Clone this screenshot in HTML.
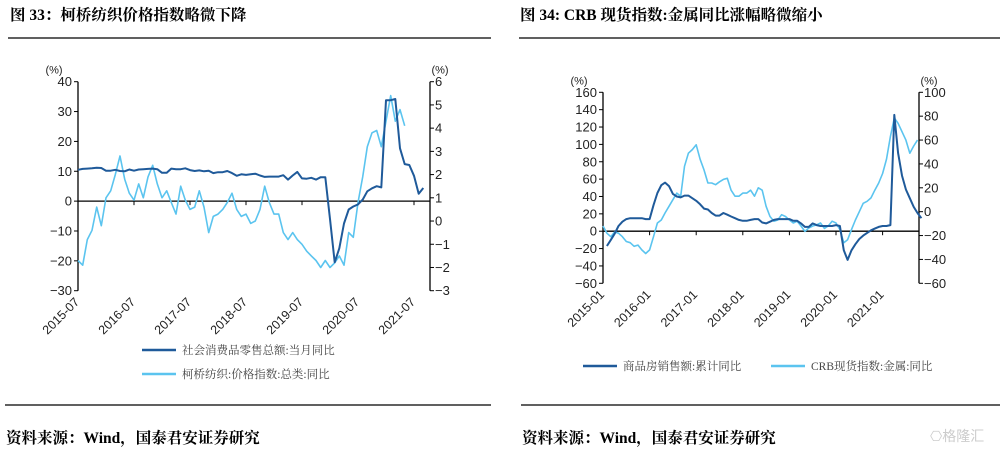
<!DOCTYPE html>
<html><head><meta charset="utf-8"><style>
body{margin:0;background:#fff;width:1007px;height:449px;overflow:hidden;position:relative;font-family:"Liberation Serif","Noto Serif CJK SC",serif}
</style></head><body>
<svg id="s" width="1007" height="449" xmlns="http://www.w3.org/2000/svg">
<text x="10" y="20" font-size="15.5" font-weight="bold" font-family="Liberation Serif,Noto Serif CJK SC,serif">图 33：柯桥纺织价格指数略微下降</text>
<text x="520" y="20" font-size="15.5" font-weight="bold" font-family="Liberation Serif,Noto Serif CJK SC,serif">图 34: CRB 现货指数:金属同比涨幅略微缩小</text>
<line x1="8" y1="38" x2="491" y2="38" stroke="#000" stroke-width="1.3"/>
<line x1="519" y1="38" x2="1000" y2="38" stroke="#000" stroke-width="1.3"/>
<line x1="5" y1="405" x2="491" y2="405" stroke="#000" stroke-width="1.3"/>
<line x1="521" y1="405" x2="1000" y2="405" stroke="#000" stroke-width="1.3"/>
<text x="6" y="443" font-size="15.5" font-weight="bold">资料来源：Wind，国泰君安证券研究</text>
<text x="522" y="443" font-size="15.5" font-weight="bold">资料来源：Wind，国泰君安证券研究</text>
<text x="930" y="441" font-size="14" fill="#ccc" font-family="Liberation Sans,Noto Sans CJK SC,sans-serif">⎔格隆汇</text>
<g id="c1"></g>
<g id="c2"></g>
</svg>
<script>
// Chart 33 data (monthly from 2015-07)
const c1Dates=['2015-07','2016-07','2017-07','2018-07','2019-07','2020-07','2021-07'];
const c1LeftTicks=[40,30,20,10,0,-10,-20,-30];
const c1RightTicks=[6,5,4,3,2,1,0,-1,-2,-3];
const retail=[10.5,10.8,10.9,11.0,11.2,11.1,
10.2,10.2,10.5,10.1,10.0,10.6,10.2,10.6,10.7,10.8,10.9,10.7,
9.5,9.5,10.9,10.7,10.7,11.0,10.4,10.1,10.3,10.0,10.2,9.4,
9.7,9.7,10.1,9.4,8.5,9.0,8.8,9.0,9.2,8.6,8.1,8.2,
8.2,8.2,8.7,7.2,8.6,9.8,7.6,7.5,7.8,7.2,8.0,8.0,
-6.0,-20.5,-15.8,-7.5,-2.8,-1.8,-1.1,0.5,3.3,4.3,5.0,4.6,
33.8,33.8,34.2,17.7,12.4,12.1,8.5,2.5,4.4];
const keqiao=[-1.7,-1.9,-0.8,-0.4,0.6,-0.2,
1.0,1.3,2.0,2.8,1.8,1.2,0.9,1.6,1.0,1.9,2.4,1.6,
1.0,1.3,0.8,0.3,1.5,0.9,0.5,0.6,1.3,0.6,-0.5,0.2,
0.3,0.5,0.8,1.2,0.5,0.2,0.3,-0.1,0.0,0.5,1.5,0.8,
0.3,0.3,-0.5,-0.8,-0.5,-0.8,-1.0,-1.3,-1.5,-1.7,-2.0,-1.7,
-2.0,-1.8,-1.5,-1.9,-0.5,-0.7,0.8,1.9,3.2,3.8,3.9,3.2,
4.3,5.4,4.3,4.8,4.1];
// Chart 34 data (monthly)
const c2Dates=['2015-01','2016-01','2017-01','2018-01','2019-01','2020-01','2021-01'];
const c2LeftTicks=[160,140,120,100,80,60,40,20,0,-20,-40,-60];
const c2RightTicks=[100,80,60,40,20,0,-20,-40,-60];
const housing=[-17,-10,-3,6,11,14,15,15,15,15,14,
14,30,44,53,56,52,43,40,39,41,41,38,
35,31,26,25,21,18,18,21,19,17,15,13,
12,12,13,14,14,10,9,11,13,14,14,14,
14,12,12,9,5,5,9,7,6,6,6,6,
7,6,-22,-33,-22,-15,-9,-5,-2,1,3,5,
6,6,7,134,90,64,48,38,28,21,15];
const crb=[-12,-18,-21,-17,-18,-21,-25,-26,-29,-28,-32,-35,
-32,-21,-9.5,-7,-1,4.5,10,15.6,13,38,49,52,
56,44,35,24,24,22.6,25,27,28,18,13,13,
15.6,15.6,18,13,20,18,4.5,-4,-8,-7,-2.5,-4,
-7,-9.5,-8,-12,-16.5,-13.7,-12,-11,-9.5,-14,-12,-8,
-9.5,-15,-26,-23.5,-15,-7,0,7,8.7,11.5,18,24,
32,44,63,78.5,74,67,60,49,55,60];

const NS='http://www.w3.org/2000/svg';
function mk(p,tag,attrs,txt){const e=document.createElementNS(NS,tag);for(const k in attrs)e.setAttribute(k,attrs[k]);if(txt!==undefined)e.textContent=txt;p.appendChild(e);return e;}
const SF='Liberation Sans,DejaVu Sans,sans-serif';

function draw(g,cfg){
  const {x0,x1,yT,yB,lMax,lMin,rMax,rMin,lTicks,rTicks,dates,monthPx,xStart}=cfg;
  const yl=v=>yB-(v-lMin)/(lMax-lMin)*(yB-yT);
  const yr=v=>yB-(v-rMin)/(rMax-rMin)*(yB-yT);
  const xm=i=>xStart+i*monthPx;
  let e=mk(g,'line',{x1:x0,y1:yT,x2:x0,y2:yB,stroke:'#000','stroke-width':1.3});
  
  
  e=mk(g,'line',{x1:x1,y1:yT,x2:x1,y2:yB,stroke:'#000','stroke-width':1.3});
  
  
  e=mk(g,'line',{x1:x0,y1:yl(0),x2:x1,y2:yl(0),stroke:'#000','stroke-width':1.3});
  
  
  lTicks.forEach(v=>{
    mk(g,'line',{x1:x0-4,y1:yl(v),x2:x0,y2:yl(v),stroke:'#000'});
    e=mk(g,'text',{x:x0-6,y:yl(v)+4.5,'font-size':13,'text-anchor':'end','font-family':SF,fill:'#222'},String(v).replace('-','−'));
    
    
  });
  rTicks.forEach(v=>{
    mk(g,'line',{x1:x1,y1:yr(v),x2:x1+4,y2:yr(v),stroke:'#000'});
    e=mk(g,'text',{x:x1+5,y:yr(v)+4.5,'font-size':13,'font-family':SF,fill:'#222'},String(v).replace('-','−'));
    
    
  });
  e=mk(g,'text',{x:x0-24,y:yT-8,'font-size':11,'text-anchor':'middle','font-family':SF,fill:'#222'},'(%)');
  
  
  e=mk(g,'text',{x:x1+10,y:yT-8,'font-size':11,'text-anchor':'middle','font-family':SF,fill:'#222'},'(%)');
  
  
  dates.forEach((d,i)=>{
    const x=x0+i*12*monthPx;
    if(i>0)mk(g,'line',{x1:x,y1:yl(0),x2:x,y2:yl(0)+4,stroke:'#000'});
    e=mk(g,'text',{x:x+2,y:yB+12,'font-size':12.5,'text-anchor':'end','font-family':SF,fill:'#222',transform:`rotate(-45 ${x+2} ${yB+12})`},d);
    
    
  });
  return {yl,yr,xm};
}
function series(g,vals,xf,yf,color,w,name){
  const d=vals.map((v,i)=>(i?'L':'M')+xf(i).toFixed(1)+','+yf(v).toFixed(1)).join('');
  const e=mk(g,'path',{d:d,fill:'none',stroke:color,'stroke-width':w,'stroke-linejoin':'round'});
  
  
}
function legend(g,x,y,color,label,name){
  const grp=mk(g,'g',{});
  
  
  mk(grp,'line',{x1:x,y1:y,x2:x+34,y2:y,stroke:color,'stroke-width':2.5});
  mk(grp,'text',{x:x+40,y:y+4,'font-size':11.5,fill:'#444','font-family':'Liberation Serif,Noto Serif CJK SC,serif'},label);
}
const DARK='#1f5a9a', LIGHT='#5bc4ef';
const g1=document.getElementById('c1');
const a=draw(g1,{x0:78,x1:430,yT:81.7,yB:290.7,lMax:40,lMin:-30,rMax:6,rMin:-3,lTicks:c1LeftTicks,rTicks:c1RightTicks,dates:c1Dates,monthPx:56/12,xStart:78});
series(g1,keqiao,a.xm,a.yr,LIGHT,1.6,'keqiao-textile-price-line');
series(g1,retail,a.xm,a.yl,DARK,2,'retail-sales-line');
legend(g1,142,350,DARK,'社会消费品零售总额:当月同比','legend-retail-sales');
legend(g1,142,374,LIGHT,'柯桥纺织:价格指数:总类:同比','legend-keqiao-price');

const g2=document.getElementById('c2');
const b=draw(g2,{x0:603,x1:919,yT:92.3,yB:283.3,lMax:160,lMin:-60,rMax:100,rMin:-60,lTicks:c2LeftTicks,rTicks:c2RightTicks,dates:c2Dates,monthPx:46.6/12,xStart:603});
series(g2,crb,b.xm,b.yr,LIGHT,1.6,'crb-metals-line');
const xh=i=>603+(i+1)*46.6/12;
series(g2,housing,xh,b.yl,DARK,2,'housing-sales-line');
legend(g2,583,366,DARK,'商品房销售额:累计同比','legend-housing-sales');
legend(g2,771,366,LIGHT,'CRB现货指数:金属:同比','legend-crb-metals');
</script>
</body></html>
